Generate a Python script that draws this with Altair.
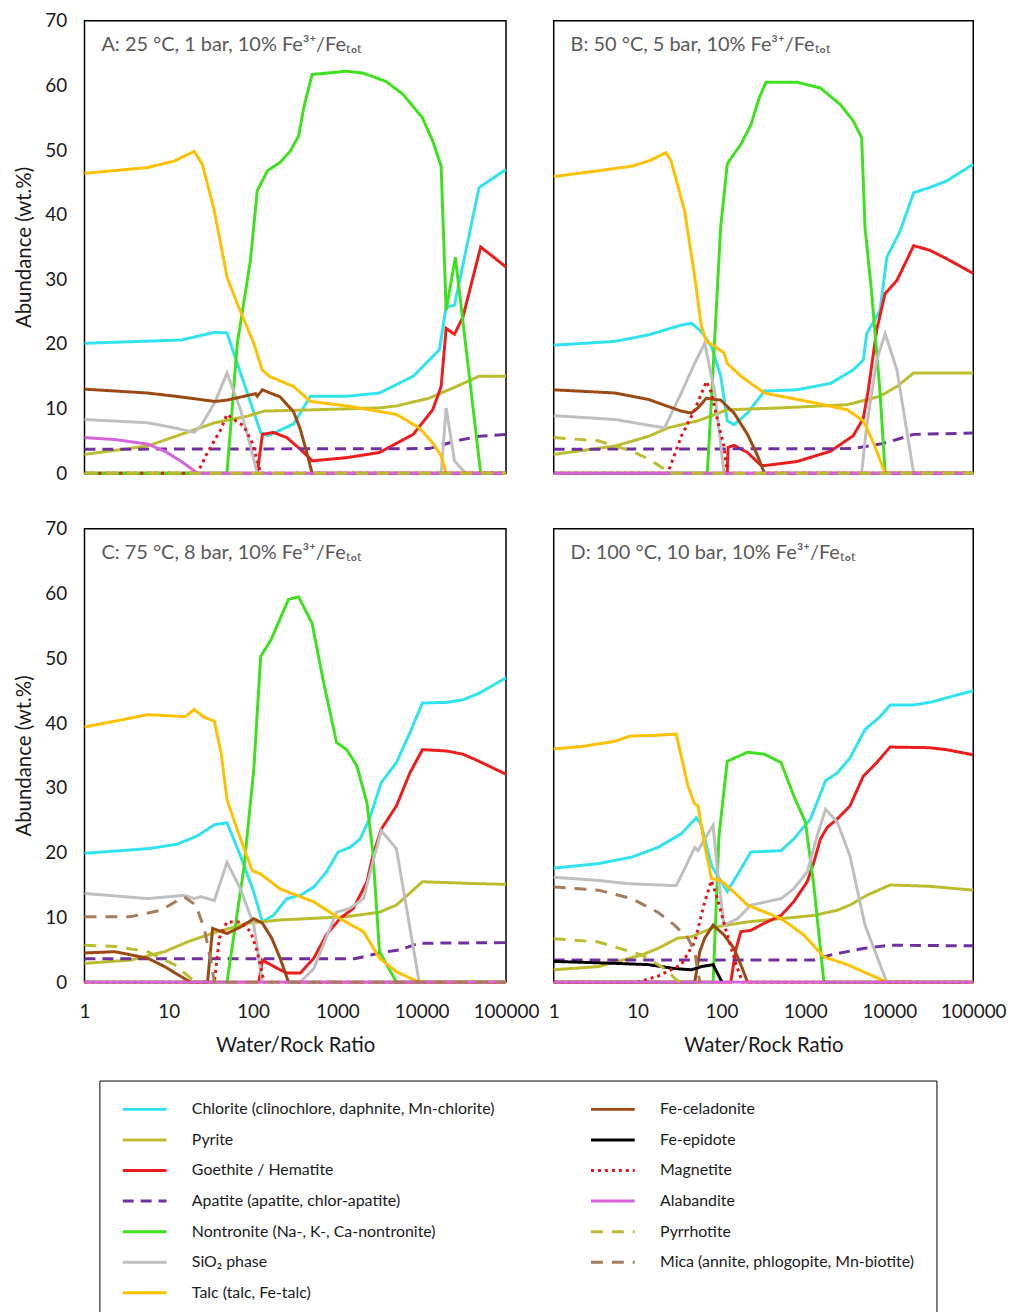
import altair as alt
import pandas as pd

# Mineral names in drawing order (later series are drawn on top); the legend lists them column by column
MINERALS = [
    "Chlorite (clinochlore, daphnite, Mn-chlorite)",
    "Pyrite",
    "Goethite / Hematite",
    "Apatite (apatite, chlor-apatite)",
    "Nontronite (Na-, K-, Ca-nontronite)",
    "SiO₂ phase",
    "Talc (talc, Fe-talc)",
    "Fe-celadonite",
    "Fe-epidote",
    "Magnetite",
    "Alabandite",
    "Pyrrhotite",
    "Mica (annite, phlogopite, Mn-biotite)",
]
COLORS = ["#2FE3EF", "#BBBD2E", "#EE1C1C", "#7030A0", "#3FE11F", "#BFBFBF", "#FFC000",
          "#9A4A12", "#000000", "#E4141B", "#D862DC", "#BBBD2E", "#A57C5C"]
DASHES = [[1, 0], [1, 0], [1, 0], [11, 7], [1, 0], [1, 0], [1, 0],
          [1, 0], [1, 0], [3, 4], [1, 0], [12, 9], [12, 9]]

# ---- A: 25 °C, 1 bar  (water/rock ratio, wt.%) ----
A_CHLORITE = [(1, 20.1), (14, 20.6), (35, 21.8), (49, 21.7), (123, 6.3), (150, 5.8), (302, 7.6), (479, 11.9),
              (1290, 11.9), (3160, 12.4), (7940, 15.0), (16200, 19.1), (19500, 25.7), (24500, 26.0),
              (47900, 44.2), (100000, 47.0)]
A_PYRITE = [(1, 2.9), (5.6, 4.2), (14, 6.0), (35, 7.8), (85, 8.8), (135, 9.6), (525, 9.8), (3160, 10.1),
            (5010, 10.4), (12300, 11.6), (25700, 13.4), (47900, 15.0), (100000, 15.0)]
A_GOETHITE = [(1, 0), (112, 0), (129, 6.0), (174, 6.3), (251, 5.5), (363, 3.7), (479, 2.2), (501, 1.9),
              (1290, 2.4), (3160, 3.2), (7940, 6.0), (13500, 9.8), (17000, 13.4), (19500, 22.4),
              (24500, 21.5), (30900, 24.2), (50100, 35.0), (100000, 31.9)]
A_APATITE = [(1, 3.7), (12300, 3.8), (25700, 5.0), (47900, 5.7), (100000, 6.0)]
A_NONTRONITE = [(1, 0), (49, 0), (65, 20.1), (93, 32.9), (112, 43.7), (148, 46.8), (209, 48.1), (275, 49.8),
                (347, 52.2), (398, 56.5), (501, 61.7), (1290, 62.2), (2040, 61.9), (3800, 60.6), (6030, 58.6),
                (10200, 55.0), (13500, 51.4), (17000, 47.5), (19500, 25.2), (25100, 33.4), (50100, 0),
                (100000, 0)]
A_SIO2 = [(1, 8.3), (5.6, 7.8), (11.7, 7.0), (20, 6.3), (24, 7.3), (35, 10.9), (49, 15.5), (71, 9.8),
          (93, 4.2), (112, 0), (17000, 0), (19500, 10.1), (24500, 1.9), (33100, 0), (100000, 0)]
A_TALC = [(1, 46.4), (5.6, 47.3), (11.6, 48.3), (20, 49.8), (25, 47.8), (34.7, 40.6), (49, 30.4), (64.6, 26.3),
          (102, 20.1), (128, 16.0), (155, 15.0), (302, 13.4), (479, 11.1), (1290, 10.4), (5010, 9.1),
          (9330, 7.0), (13500, 4.7), (17000, 2.7), (19500, 0), (100000, 0)]
A_CELADONITE = [(1, 13.0), (5.6, 12.4), (13.8, 11.8), (35, 11.1), (49, 11.3), (85, 12.0), (107, 12.3),
                (112, 11.9), (129, 12.9), (209, 11.8), (302, 9.5), (363, 6.8), (437, 3.0), (501, 0), (100000, 0)]
A_MAGNETITE = [(1, 0), (21.9, 0), (28.8, 3.2), (41.7, 6.8), (49, 9.1), (58.9, 8.3), (77.6, 7.3), (97.7, 4.7),
               (117, 1.1), (123, 0), (100000, 0)]
A_ALABANDITE = [(1, 5.5), (2.3, 5.2), (5.6, 4.5), (8.9, 3.4), (13.8, 1.9), (21.9, 0), (100000, 0)]
A_PYRRHOTITE = [(1, 0), (100000, 0)]

# ---- B: 50 °C, 5 bar ----
B_CHLORITE = [(1, 19.8), (5.4, 20.4), (13.5, 21.4), (33, 22.9), (44, 23.2), (57.5, 21.9), (76, 19.6),
              (98, 15.0), (117, 8.1), (141, 7.5), (204, 9.3), (324, 12.7), (794, 12.9), (2000, 13.9),
              (3720, 16.0), (4900, 17.5), (5370, 21.6), (7760, 25.2), (9330, 33.4), (13500, 37.5),
              (19500, 43.4), (30200, 44.2), (47900, 45.2), (100000, 47.8)]
B_PYRITE = [(1, 2.9), (5.4, 4.2), (13.5, 5.7), (22.9, 7.0), (52.5, 8.1), (117, 9.8), (513, 10.1),
            (3160, 10.6), (7760, 11.9), (12300, 13.4), (19500, 15.5), (100000, 15.5)]
B_GOETHITE = [(1, 0), (117, 0), (120, 4.0), (141, 4.3), (204, 3.2), (295, 1.2), (339, 1.2), (794, 1.8),
              (2000, 3.4), (3720, 5.8), (4900, 8.5), (5620, 12.9), (7080, 22.2), (8910, 27.8), (12300, 29.8),
              (19500, 35.2), (30200, 34.5), (47900, 33.2), (100000, 30.9)]
B_APATITE = [(1, 3.7), (3720, 3.8), (7760, 4.5), (12300, 5.2), (19500, 6.0), (100000, 6.2)]
B_NONTRONITE = [(1, 0), (67.6, 0), (75.9, 11.4), (97.7, 38.1), (117, 47.8), (120, 48.1), (170, 50.9),
                (224, 53.9), (282, 58.1), (339, 60.5), (794, 60.5), (1510, 59.6), (2630, 57.0), (3720, 54.5),
                (4680, 51.9), (5130, 38.1), (6170, 27.8), (7760, 12.4), (8910, 0), (100000, 0)]
B_SIO2 = [(1, 8.9), (5.4, 8.3), (20.9, 7.0), (33.1, 12.4), (47.9, 17.0), (63.1, 20.1), (83.2, 12.4),
          (107, 0), (4680, 0), (5370, 7.3), (7080, 17.5), (8910, 21.6), (12300, 16.0), (19500, 0), (100000, 0)]
B_TALC = [(1, 45.9), (3.4, 46.8), (8.5, 47.5), (13.5, 48.3), (21.9, 49.6), (25.1, 48.3), (36.3, 40.6),
          (47.9, 30.4), (57.5, 22.7), (66.1, 20.4), (83.2, 19.6), (107, 18.6), (117, 17.0), (170, 15.0),
          (324, 12.4), (1260, 10.9), (3160, 9.8), (4900, 8.1), (6460, 4.7), (8910, 0), (100000, 0)]
B_CELADONITE = [(1, 12.9), (5.4, 12.4), (13.5, 11.4), (33.1, 9.6), (43.7, 9.3), (52.5, 10.1), (66.1, 11.6),
                (83.2, 11.4), (97.7, 11.3), (141, 9.3), (204, 6.0), (269, 2.7), (324, 0), (100000, 0)]
B_MAGNETITE = [(1, 0), (22.9, 0), (33.1, 5.7), (47.9, 9.8), (66.1, 14.2), (75.9, 12.4), (89.1, 8.3),
               (107, 4.2), (117, 0), (100000, 0)]
B_ALABANDITE = [(1, 0), (100000, 0)]
B_PYRRHOTITE = [(1, 5.5), (3.4, 5.0), (8.5, 3.4), (13.5, 2.2), (20.9, 0.6), (22.9, 0), (100000, 0)]

# ---- C: 75 °C, 8 bar ----
C_CHLORITE = [(1, 19.9), (5.6, 20.6), (12.6, 21.3), (21.9, 22.6), (34.7, 24.3), (49, 24.6), (70.8, 19.5),
              (102, 13.9), (129, 9.3), (174, 10.3), (251, 12.9), (363, 13.4), (525, 14.7), (741, 17.0),
              (1020, 20.1), (1410, 20.8), (1860, 22.1), (2400, 25.2), (3310, 30.8), (5010, 33.9),
              (7240, 38.5), (10200, 43.1), (19500, 43.2), (30900, 43.6), (47900, 44.6), (100000, 47.0)]
C_PYRITE = [(1, 2.9), (3.5, 3.4), (8.9, 4.7), (16.6, 6.2), (28.8, 7.3), (85, 9.1), (209, 9.6), (1290, 10.1),
            (3160, 10.8), (5010, 11.9), (10200, 15.5), (47900, 15.2), (100000, 15.1)]
C_GOETHITE = [(1, 0), (117, 0), (129, 3.4), (209, 1.9), (251, 1.4), (363, 1.4), (525, 3.7), (741, 7.3),
              (1070, 9.8), (1550, 11.4), (2240, 15.5), (2630, 19.5), (3310, 23.6), (5010, 27.2), (7240, 32.3),
              (10200, 35.9), (19500, 35.7), (30900, 35.2), (47900, 34.1), (100000, 32.1)]
C_APATITE = [(1, 3.6), (1600, 3.6), (3160, 4.5), (5500, 5.0), (9330, 6.0), (100000, 6.1)]
C_NONTRONITE = [(1, 0), (49, 0), (77.6, 17.5), (102, 32.9), (123, 50.3), (162, 52.8), (263, 59.1),
                (347, 59.5), (501, 55.4), (676, 46.7), (977, 37.0), (1290, 35.9), (1700, 33.4), (2240, 27.7),
                (2630, 20.1), (3160, 4.7), (5010, 0), (100000, 0)]
C_SIO2 = [(1, 13.7), (5.6, 12.9), (15.1, 13.4), (20, 12.9), (24, 13.2), (34.7, 12.6), (49, 18.5), (70.8, 14.4),
          (102, 8.8), (129, 0), (363, 0), (525, 2.1), (977, 10.8), (1410, 11.4), (2040, 12.9), (2630, 18.5),
          (3310, 23.4), (5010, 20.6), (9330, 0), (100000, 0)]
C_TALC = [(1, 39.4), (2.3, 40.3), (5.6, 41.3), (15.8, 41.0), (20, 42.1), (26.3, 40.9), (34.7, 40.3),
          (41.7, 35.4), (49, 28.2), (64.6, 23.6), (97.7, 17.2), (123, 16.7), (209, 14.4), (331, 13.4),
          (525, 12.4), (1070, 9.8), (2040, 7.8), (3160, 3.7), (5010, 1.6), (9330, 0), (100000, 0)]
C_CELADONITE = [(1, 4.5), (2.3, 4.7), (5.6, 3.7), (8.9, 2.4), (13.8, 0.9), (18.2, 0), (28.8, 0), (33.1, 8.3),
                (49, 7.5), (70.8, 8.5), (102, 9.8), (129, 9.1), (166, 6.8), (209, 3.7), (263, 0), (100000, 0)]
C_MAGNETITE = [(1, 0), (34.7, 0), (39.8, 6.8), (49, 9.3), (70.8, 9.3), (93.3, 7.8), (112, 4.7), (135, 0),
               (100000, 0)]
C_ALABANDITE = [(1, 0), (100000, 0)]
C_PYRRHOTITE = [(1, 5.7), (2.3, 5.5), (5.6, 4.7), (11.7, 2.7), (18.2, 0.6), (20, 0)]
C_MICA = [(1, 10.1), (3.5, 10.1), (8.1, 11.1), (15.1, 13.2), (20.9, 11.9), (26.3, 8.3), (31.6, 3.2),
          (34.7, 0), (100000, 0)]

# ---- D: 100 °C, 10 bar ----
D_CHLORITE = [(1, 17.6), (3.4, 18.3), (8.5, 19.3), (17.4, 20.8), (33.1, 22.9), (50.1, 25.4), (57.5, 24.2),
              (75.9, 18.0), (117, 14.0), (162, 17.0), (224, 20.1), (513, 20.3), (724, 22.1), (1150, 25.2),
              (1740, 31.1), (2400, 32.3), (3390, 34.6), (5130, 39.0), (7760, 41.0), (10200, 42.8),
              (19500, 42.8), (33100, 43.3), (47900, 43.9), (100000, 45.0)]
D_PYRITE = [(1, 1.9), (3.4, 2.4), (11.2, 4.2), (17.4, 5.2), (30.2, 6.8), (43.7, 7.0), (83.2, 8.5), (204, 9.3),
            (1260, 10.3), (2400, 11.1), (3390, 11.9), (5370, 13.4), (10200, 15.0), (30200, 14.8),
            (100000, 14.2)]
D_GOETHITE = [(1, 0), (129, 0), (148, 5.0), (170, 7.8), (224, 8.0), (324, 9.1), (513, 10.3), (724, 12.4),
              (1050, 15.5), (1260, 18.5), (1510, 22.1), (1820, 23.9), (2400, 25.2), (3390, 27.2), (4900, 31.8),
              (7080, 33.9), (10200, 36.3), (30200, 36.2), (47900, 35.9), (100000, 35.1)]
D_APATITE = [(1, 3.4), (1260, 3.4), (2000, 4.2), (4900, 5.2), (10200, 5.7), (100000, 5.6)]
D_NONTRONITE = [(1, 0), (79.4, 0), (93.3, 22.6), (117, 34.1), (204, 35.5), (324, 35.2), (513, 33.9),
                (724, 28.8), (1000, 24.7), (1260, 14.9), (1660, 0), (100000, 0)]
D_SIO2 = [(1, 16.2), (3.4, 15.7), (7.8, 15.2), (28.8, 14.9), (36.3, 17.5), (47.9, 20.8), (52.5, 20.3),
          (63.1, 22.1), (79.4, 24.2), (89.1, 17.5), (107, 8.8), (155, 9.8), (224, 11.9), (513, 12.9),
          (724, 14.4), (1050, 17.0), (1380, 22.6), (1740, 26.7), (2400, 24.7), (3390, 19.5), (5130, 8.8),
          (9330, 0), (100000, 0)]
D_TALC = [(1, 36.0), (2.2, 36.4), (5.4, 37.2), (8.1, 38.0), (15.8, 38.1), (28.8, 38.3), (39.8, 30.3),
          (47.9, 27.5), (52.5, 27.2), (63.1, 21.1), (75.9, 16.0), (97.7, 15.7), (141, 13.9), (204, 11.9),
          (513, 9.8), (955, 7.3), (1660, 3.9), (3160, 2.7), (9330, 0), (100000, 0)]
D_CELADONITE = [(1, 0), (47.9, 0), (55, 4.7), (63.1, 6.8), (79.4, 8.8), (107, 7.3), (141, 5.2), (170, 2.7),
                (204, 0), (100000, 0)]
D_EPIDOTE = [(1, 3.2), (5.4, 2.9), (13.5, 2.7), (27.5, 2.1), (43.7, 1.9), (57.5, 2.4), (79.4, 2.7),
             (97.7, 0.4), (102, 0)]
D_MAGNETITE = [(1, 0), (10, 0), (17.4, 0.9), (33.1, 2.7), (47.9, 6.2), (63.1, 12.4), (75.9, 15.7),
               (89.1, 12.9), (117, 7.3), (155, 2.1), (178, 0), (100000, 0)]
D_ALABANDITE = [(1, 0), (100000, 0)]
D_PYRRHOTITE = [(1, 6.7), (3.4, 6.2), (11.2, 4.2), (20.9, 2.1), (28.8, 0.4), (31.6, 0)]
D_MICA = [(1, 14.7), (3.4, 14.2), (8.5, 12.9), (17.4, 10.8), (27.5, 8.8), (39.8, 6.8), (47.9, 4.7),
          (50, 3.2), (55, 0)]

PANEL_TITLES = [
    "A: 25 °C, 1 bar, 10% Fe³⁺/Feₜₒₜ",
    "B: 50 °C, 5 bar, 10% Fe³⁺/Feₜₒₜ",
    "C: 75 °C, 8 bar, 10% Fe³⁺/Feₜₒₜ",
    "D: 100 °C, 10 bar, 10% Fe³⁺/Feₜₒₜ",
]
X_TICKS = [1, 10, 100, 1000, 10000, 100000]
Y_TICKS = [0, 10, 20, 30, 40, 50, 60, 70]

PANEL_SERIES = [
    [A_CHLORITE, A_PYRITE, A_GOETHITE, A_APATITE, A_NONTRONITE, A_SIO2, A_TALC, A_CELADONITE, None,
     A_MAGNETITE, A_ALABANDITE, A_PYRRHOTITE, None],
    [B_CHLORITE, B_PYRITE, B_GOETHITE, B_APATITE, B_NONTRONITE, B_SIO2, B_TALC, B_CELADONITE, None,
     B_MAGNETITE, B_ALABANDITE, B_PYRRHOTITE, None],
    [C_CHLORITE, C_PYRITE, C_GOETHITE, C_APATITE, C_NONTRONITE, C_SIO2, C_TALC, C_CELADONITE, None,
     C_MAGNETITE, C_ALABANDITE, C_PYRRHOTITE, C_MICA],
    [D_CHLORITE, D_PYRITE, D_GOETHITE, D_APATITE, D_NONTRONITE, D_SIO2, D_TALC, D_CELADONITE, D_EPIDOTE,
     D_MAGNETITE, D_ALABANDITE, D_PYRRHOTITE, D_MICA],
]

FONT = "Lato"
TEXT_COLOR = "#1a1a1a"

color_scale = alt.Scale(domain=MINERALS, range=COLORS)
dash_scale = alt.Scale(domain=MINERALS, range=DASHES)
x_scale = alt.Scale(type="log", domain=[1, 100000], nice=False)
y_scale = alt.Scale(domain=[0, 70], nice=False)

legend = alt.Legend(
    title=None, orient="none", legendX=15, legendY=1066, columns=2,
    symbolType="stroke", symbolSize=1936, symbolStrokeWidth=3, symbolOffset=0,
    labelFont=FONT, labelFontSize=16, labelColor=TEXT_COLOR, labelLimit=600, labelOffset=24,
    clipHeight=14, rowPadding=14.75, columnPadding=95, padding=22,
    strokeColor="black", fillColor="white",
)

x_axis = alt.Axis(values=X_TICKS, format="d", title="Water/Rock Ratio", labelPadding=21, titlePadding=14,
                  labelFlush=False, labelOverlap=False, titleFontSize=20.5)
y_axis = alt.Axis(values=Y_TICKS, title="Abundance (wt.%)", labelPadding=18, titlePadding=10,
                  titleFontSize=20.5)


def panel(idx, width, height, show_x, show_y):
    layers = []
    for name, pts in zip(MINERALS, PANEL_SERIES[idx]):
        if pts is None:
            continue
        df = pd.DataFrame(pts, columns=["ratio", "abundance"])
        df["mineral"] = name
        layers.append(
            alt.Chart(df).mark_line(strokeWidth=3).encode(
                x=alt.X("ratio:Q", scale=x_scale, axis=x_axis if show_x else None),
                y=alt.Y("abundance:Q", scale=y_scale, axis=y_axis if show_y else None),
                color=alt.Color("mineral:N", scale=color_scale, legend=legend),
                strokeDash=alt.StrokeDash("mineral:N", scale=dash_scale, legend=legend),
            )
        )
    label = alt.Chart(pd.DataFrame({"label": [PANEL_TITLES[idx]]})).mark_text(
        align="left", baseline="alphabetic", font=FONT, fontSize=20, color="#595959"
    ).encode(text="label:N", x=alt.value(17), y=alt.value(30))
    return alt.layer(*layers, label).properties(width=width, height=height)


chart = alt.concat(
    panel(0, 424, 455, False, True),
    panel(1, 422, 455, False, False),
    panel(2, 424, 456, True, True),
    panel(3, 422, 456, True, False),
    columns=2,
    spacing={"row": 56, "column": 48},
    bounds="flush",
).properties(
    padding={"left": 14, "top": 7, "right": 5, "bottom": 5},
    background="white",
).configure_view(
    stroke="black", strokeWidth=1.5
).configure_axis(
    domain=False, ticks=False, grid=False,
    labelFont=FONT, labelFontSize=19, labelColor=TEXT_COLOR,
    titleFont=FONT, titleFontSize=19, titleColor=TEXT_COLOR, titleFontWeight="normal",
)

chart.save("out.html", embed_options={"renderer": "svg", "actions": False})
